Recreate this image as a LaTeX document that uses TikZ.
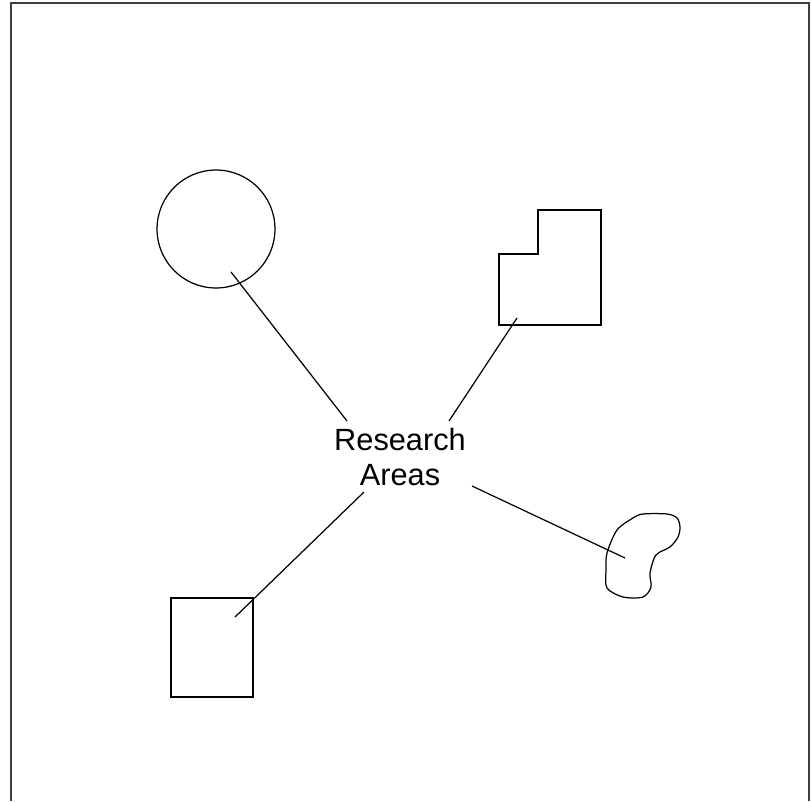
\documentclass[tikz,border=0pt]{standalone}
\usepackage{fontspec}
\setmainfont{Liberation Sans}
\begin{document}
\begin{tikzpicture}[x=0.02cm,y=-0.02cm,line width=.7pt]
\useasboundingbox (0,0) rectangle (811,801);
\draw[line width=1.1pt,black!75](11,801)--(11,3)--(809,3)--(809,801);
\node[align=center,font=\fontsize{17.5}{20}\selectfont,inner sep=0](ra) at (400,457){Research\\Areas};
% shapes
\draw (216,229) coordinate(circ) circle[radius=1.18cm];
\draw (499,254)--(538,254)--(538,210)--(601,210)--(601,325)--(499,325)--cycle;
\draw (171,598) rectangle (253,697);
\draw plot[smooth cycle,tension=.5] coordinates{(607,553)(617,530)(633,518)(643,514)(667,514)(677,518)(680,527)(678,537)(670,547)(656,555)(650,573)(651,587)(643,597)(623,597)(607,588)(606,570)};
% connectors
\coordinate (c1) at (231,272); \coordinate (a1) at (347,421);
\coordinate (c2) at (517,318); \coordinate (a2) at (449,421);
\coordinate (c3) at (235,617); \coordinate (a3) at (364,492);
\coordinate (c4) at (625,558); \coordinate (a4) at (472,486);
\foreach \i in {1,...,4}\draw (a\i)--(c\i);
\end{tikzpicture}
\end{document}
